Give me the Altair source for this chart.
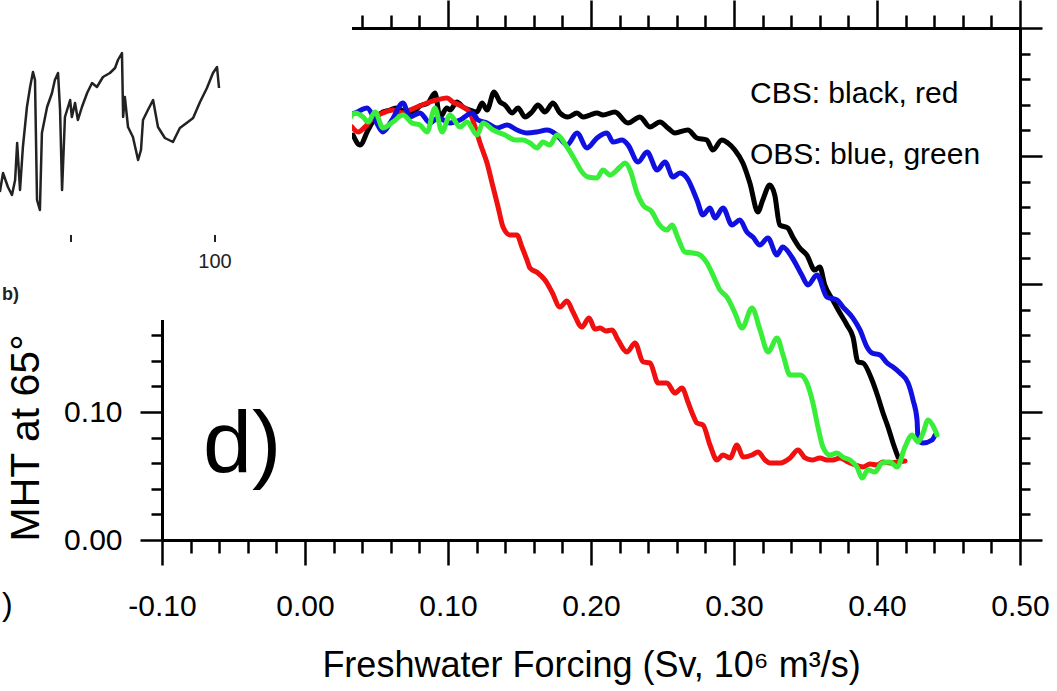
import glob
import subprocess
import altair as alt
import pandas as pd

# ---------------- data ----------------
black_x = [0.0336, 0.0385, 0.0441, 0.0490, 0.0545, 0.0594, 0.0643, 0.0699, 0.0748, 0.0804, 0.0860, 0.0909, 0.0944, 0.0993, 0.1014, 0.1063, 0.1105, 0.1154, 0.1203, 0.1238, 0.1273, 0.1322, 0.1364, 0.1399, 0.1448, 0.1490, 0.1538, 0.1587, 0.1629, 0.1678, 0.1734, 0.1783, 0.1839, 0.1902, 0.1944, 0.1993, 0.2042, 0.2083, 0.2167, 0.2258, 0.2342, 0.2412, 0.2482, 0.2538, 0.2587, 0.2677, 0.2740, 0.2810, 0.2852, 0.2915, 0.2957, 0.3006, 0.3062, 0.3111, 0.3167, 0.3201, 0.3250, 0.3285, 0.3320, 0.3376, 0.3411, 0.3460, 0.3509, 0.3565, 0.3600, 0.3635, 0.3691, 0.3741, 0.3790, 0.3832, 0.3867, 0.3902, 0.3965, 0.4007, 0.4042, 0.4077, 0.4112, 0.4147]
black_y = [0.3164, 0.3086, 0.3203, 0.3297, 0.3344, 0.3359, 0.3375, 0.3344, 0.3336, 0.3391, 0.3414, 0.3492, 0.3305, 0.3375, 0.3359, 0.3422, 0.3383, 0.3359, 0.3344, 0.3414, 0.3359, 0.3500, 0.3422, 0.3398, 0.3336, 0.3375, 0.3305, 0.3344, 0.3398, 0.3344, 0.3414, 0.3336, 0.3305, 0.3336, 0.3305, 0.3320, 0.3336, 0.3320, 0.3344, 0.3258, 0.3305, 0.3227, 0.3266, 0.3219, 0.3180, 0.3203, 0.3141, 0.3125, 0.3047, 0.3125, 0.3102, 0.3047, 0.2945, 0.2789, 0.2563, 0.2656, 0.2773, 0.2695, 0.2461, 0.2438, 0.2367, 0.2281, 0.2227, 0.2109, 0.2133, 0.1992, 0.1875, 0.1773, 0.1680, 0.1586, 0.1391, 0.1383, 0.1250, 0.1117, 0.0992, 0.0883, 0.0758, 0.0648]

red_x = [0.0329, 0.0371, 0.0420, 0.0476, 0.0545, 0.0615, 0.0685, 0.0734, 0.0783, 0.0853, 0.0923, 0.0993, 0.1035, 0.1105, 0.1154, 0.1189, 0.1224, 0.1273, 0.1315, 0.1350, 0.1385, 0.1434, 0.1482, 0.1517, 0.1552, 0.1573, 0.1629, 0.1678, 0.1727, 0.1783, 0.1832, 0.1874, 0.1937, 0.1986, 0.2028, 0.2063, 0.2105, 0.2147, 0.2189, 0.2252, 0.2308, 0.2364, 0.2413, 0.2469, 0.2531, 0.2587, 0.2636, 0.2678, 0.2713, 0.2741, 0.2783, 0.2832, 0.2881, 0.2923, 0.2972, 0.3021, 0.3063, 0.3126, 0.3168, 0.3217, 0.3252, 0.3322, 0.3392, 0.3448, 0.3497, 0.3546, 0.3601, 0.3650, 0.3692, 0.3741, 0.3797, 0.3846, 0.3902, 0.3951, 0.4000, 0.4042, 0.4091, 0.4140, 0.4196]
red_y = [0.3227, 0.3188, 0.3227, 0.3297, 0.3336, 0.3359, 0.3336, 0.3359, 0.3383, 0.3414, 0.3438, 0.3453, 0.3422, 0.3383, 0.3336, 0.3227, 0.3102, 0.2945, 0.2758, 0.2602, 0.2445, 0.2383, 0.2383, 0.2289, 0.2188, 0.2125, 0.2086, 0.2031, 0.1938, 0.1820, 0.1867, 0.1781, 0.1664, 0.1734, 0.1648, 0.1656, 0.1633, 0.1641, 0.1563, 0.1469, 0.1539, 0.1391, 0.1383, 0.1227, 0.1227, 0.1148, 0.1188, 0.1078, 0.0977, 0.0914, 0.0898, 0.0742, 0.0625, 0.0664, 0.0641, 0.0742, 0.0648, 0.0664, 0.0688, 0.0625, 0.0602, 0.0602, 0.0641, 0.0703, 0.0641, 0.0625, 0.0641, 0.0625, 0.0625, 0.0641, 0.0609, 0.0586, 0.0570, 0.0594, 0.0586, 0.0609, 0.0602, 0.0609, 0.0617]

blue_x = [0.0315, 0.0364, 0.0434, 0.0490, 0.0545, 0.0608, 0.0685, 0.0734, 0.0804, 0.0874, 0.0930, 0.1014, 0.1084, 0.1168, 0.1210, 0.1273, 0.1343, 0.1413, 0.1483, 0.1552, 0.1622, 0.1692, 0.1762, 0.1832, 0.1902, 0.1972, 0.2042, 0.2112, 0.2154, 0.2217, 0.2259, 0.2329, 0.2392, 0.2462, 0.2518, 0.2573, 0.2622, 0.2671, 0.2741, 0.2783, 0.2832, 0.2867, 0.2923, 0.2986, 0.3041, 0.3090, 0.3132, 0.3181, 0.3237, 0.3300, 0.3341, 0.3404, 0.3474, 0.3517, 0.3580, 0.3650, 0.3720, 0.3762, 0.3832, 0.3881, 0.3930, 0.3965, 0.4021, 0.4070, 0.4112, 0.4161, 0.4217, 0.4252, 0.4280, 0.4287, 0.4322, 0.4385, 0.4406]
blue_y = [0.3320, 0.3344, 0.3375, 0.3281, 0.3188, 0.3281, 0.3414, 0.3305, 0.3336, 0.3258, 0.3297, 0.3258, 0.3281, 0.3336, 0.3281, 0.3258, 0.3219, 0.3242, 0.3203, 0.3180, 0.3188, 0.3203, 0.3164, 0.3086, 0.3180, 0.3063, 0.3141, 0.3180, 0.3109, 0.3125, 0.3086, 0.2953, 0.3031, 0.2891, 0.2953, 0.2836, 0.2867, 0.2828, 0.2656, 0.2539, 0.2594, 0.2516, 0.2594, 0.2461, 0.2500, 0.2406, 0.2367, 0.2305, 0.2359, 0.2227, 0.2289, 0.2211, 0.2070, 0.1992, 0.2070, 0.1898, 0.1875, 0.1820, 0.1734, 0.1641, 0.1508, 0.1461, 0.1445, 0.1383, 0.1352, 0.1305, 0.1227, 0.1094, 0.0938, 0.0781, 0.0758, 0.0781, 0.0820]

green_x = [0.0315, 0.0350, 0.0406, 0.0441, 0.0490, 0.0545, 0.0615, 0.0685, 0.0748, 0.0804, 0.0853, 0.0909, 0.0958, 0.1014, 0.1084, 0.1133, 0.1203, 0.1245, 0.1315, 0.1399, 0.1469, 0.1524, 0.1573, 0.1622, 0.1664, 0.1713, 0.1762, 0.1832, 0.1888, 0.1937, 0.1979, 0.2042, 0.2084, 0.2133, 0.2203, 0.2238, 0.2273, 0.2322, 0.2364, 0.2427, 0.2469, 0.2531, 0.2566, 0.2608, 0.2657, 0.2713, 0.2762, 0.2811, 0.2853, 0.2902, 0.2951, 0.3007, 0.3056, 0.3126, 0.3182, 0.3238, 0.3301, 0.3343, 0.3392, 0.3462, 0.3510, 0.3552, 0.3587, 0.3622, 0.3671, 0.3720, 0.3762, 0.3811, 0.3860, 0.3895, 0.3937, 0.3986, 0.4035, 0.4091, 0.4140, 0.4196, 0.4245, 0.4287, 0.4322, 0.4357, 0.4406, 0.4420]
green_y = [0.3297, 0.3336, 0.3305, 0.3266, 0.3344, 0.3219, 0.3266, 0.3320, 0.3258, 0.3242, 0.3188, 0.3375, 0.3188, 0.3320, 0.3227, 0.3266, 0.3164, 0.3258, 0.3203, 0.3164, 0.3125, 0.3125, 0.3102, 0.3063, 0.3109, 0.3086, 0.3164, 0.3070, 0.2969, 0.2875, 0.2836, 0.2828, 0.2891, 0.2852, 0.2914, 0.2945, 0.2891, 0.2711, 0.2617, 0.2563, 0.2477, 0.2422, 0.2461, 0.2359, 0.2250, 0.2242, 0.2227, 0.2164, 0.2070, 0.1953, 0.1898, 0.1773, 0.1656, 0.1813, 0.1641, 0.1469, 0.1578, 0.1445, 0.1289, 0.1289, 0.1227, 0.1070, 0.0883, 0.0727, 0.0664, 0.0680, 0.0648, 0.0625, 0.0570, 0.0484, 0.0547, 0.0531, 0.0602, 0.0609, 0.0570, 0.0727, 0.0820, 0.0766, 0.0836, 0.0938, 0.0859, 0.0820]

# fragment of the neighbouring panel (b) visible at top left
inset_year = [25.3, 26.4, 28.1, 29.5, 30.6, 31.3, 32.3, 33.3, 34.7, 35.8, 36.8, 37.5, 38.2, 39.2, 39.9, 41.7, 43.4, 44.4, 45.5, 46.2, 46.9, 47.9, 49.7, 50.3, 51.4, 52.4, 53.8, 55.6, 57.3, 59.0, 61.1, 63.5, 65.3, 66.3, 67.7, 68.1, 68.7, 69.8, 71.5, 73.3, 74.3, 75.0, 76.7, 78.5, 80.2, 82.6, 85.4, 87.8, 90.6, 92.4, 94.8, 97.2, 99.3, 100.7, 101.4]
inset_val = [2.8, 4.7, 3.3, 2.5, 4.0, 7.7, 3.0, 7.3, 11.3, 13.3, 14.8, 14.0, 2.0, 1.0, 8.7, 11.3, 12.7, 14.0, 14.7, 11.0, 3.0, 10.3, 12.0, 10.3, 11.7, 10.0, 11.3, 12.7, 13.7, 13.3, 14.3, 14.7, 15.2, 16.0, 16.7, 10.3, 12.3, 9.3, 8.3, 6.0, 7.0, 10.0, 11.0, 12.0, 9.3, 8.2, 7.8, 9.2, 9.8, 10.2, 11.8, 13.2, 14.7, 15.3, 13.2]
inset_ticks = [50, 100]
inset_tick_labels = ["100"]

x_ticks = [round(-0.10 + 0.02 * i, 2) for i in range(31)]
y_ticks = [round(0.02 * i, 2) for i in range(21)]

x_title = "Freshwater Forcing (Sv, 10\u2076 m\u00b3/s)"
y_title = "MHT at 65\u00b0"
legend_lines = ["CBS: black, red", "OBS: blue, green"]
panel_label = ["d)"]

# ---------------- fonts ----------------
def font_families():
    names = set()
    try:
        out = subprocess.run(["fc-list", ":", "family"], capture_output=True,
                             text=True, timeout=15).stdout
        for line in out.splitlines():
            for n in line.split(","):
                names.add(n.strip())
    except Exception:
        pass
    return names


FAMS = font_families()
if "Liberation Sans Narrow" in FAMS or glob.glob("/usr/share/fonts/**/LiberationSansNarrow*", recursive=True):
    FONT = '"Liberation Sans Narrow", "Liberation Sans", Arial, sans-serif'
    SC = 1.0 / 0.82
elif "Noto Sans Condensed" in FAMS:
    FONT = '"Noto Sans Condensed", "Liberation Sans", Arial, sans-serif'
    SC = 1.0 / 0.86
else:
    FONT = '"Liberation Sans", Arial, sans-serif'
    SC = 1.0
LAB, TIT, LEG, PANEL = round(30 * SC), round(36 * SC), round(30 * SC), round(88 * SC)
RFONT = '"Liberation Sans", Arial, sans-serif'

# ---------------- axes ----------------
MAJOR = "abs(datum.value * 10 - round(datum.value * 10)) < 0.001"
LABEL_EXPR = (f"({MAJOR}) ? (datum.value < 0 ? '-' + format(-datum.value, '.2f') "
              f": format(datum.value, '.2f')) : ''")


def tsize(major, minor):
    return {"condition": {"test": MAJOR, "value": major}, "value": minor}


common = dict(domainColor="black", domainWidth=3, tickColor="black", tickWidth=2.5,
              grid=False, labelColor="black", titleColor="black")

axis_bottom = alt.Axis(orient="bottom", values=x_ticks, tickSize=tsize(25, 13),
                       labelExpr=LABEL_EXPR, labelFont=FONT, labelFontSize=LAB,
                       labelBaseline="alphabetic", labelPadding=50, labelFlush=False,
                       labelOverlap=False, title=x_title, titleFont=FONT,
                       titleFontSize=TIT, titleFontWeight="normal", titleX=429,
                       titleY=136, titleBaseline="alphabetic", titleAlign="center", **common)
axis_left = alt.Axis(orient="left", values=y_ticks, tickSize=tsize(22, 11),
                     labelExpr=LABEL_EXPR, labelFont=FONT, labelFontSize=LAB,
                     labelPadding=18, labelOverlap=False, labelFlush=False,
                     title=y_title, titleFont=RFONT, titleFontSize=41,
                     titleFontWeight="normal", titleAngle=270, titleAlign="left",
                     titleBaseline="alphabetic", titleX=-124, titleY=513, **common)
axis_top = alt.Axis(orient="top", values=x_ticks, tickSize=tsize(28, 13),
                    labels=False, title="", **common)
axis_right = alt.Axis(orient="right", values=y_ticks, tickSize=tsize(22, 10),
                      labels=False, title="", **common)

x_scale = alt.Scale(domain=[-0.10, 0.50], nice=False, zero=False)
y_scale = alt.Scale(domain=[0.0, 0.40], nice=False, zero=False)


def series(xs, ys, color, xaxis, yaxis):
    df = pd.DataFrame({"x": xs, "y": ys})
    return alt.Chart(df).mark_line(color=color, strokeWidth=5, strokeJoin="round",
                                   strokeCap="round", interpolate="monotone").encode(
        x=alt.X("x:Q", scale=x_scale, axis=xaxis),
        y=alt.Y("y:Q", scale=y_scale, axis=yaxis),
    )


main = alt.layer(
    series(black_x, black_y, "black", axis_bottom, axis_left),
    series(red_x, red_y, "#f01010", None, None),
    series(blue_x, blue_y, "#1010e0", axis_top, axis_right),
    series(green_x, green_y, "#38ee38", None, None),
).resolve_axis(x="independent", y="independent")

# white patch of the overlapping neighbouring panel
cover = alt.Chart(pd.DataFrame({"a": [0]})).mark_rect(color="white").encode(
    x=alt.value(-170), x2=alt.value(190), y=alt.value(-40), y2=alt.value(292))

# neighbouring panel fragment
ix = alt.Scale(domain=[0, 100], range=[-235, 53], nice=False, zero=False)
iy = alt.Scale(domain=[0, 20], range=[192, -8], nice=False, zero=False)
inset_line = alt.Chart(pd.DataFrame({"year": inset_year, "val": inset_val})).mark_line(
    color="#222222", strokeWidth=2.5, strokeJoin="round").encode(
    x=alt.X("year:Q", scale=ix, axis=None), y=alt.Y("val:Q", scale=iy, axis=None))
inset_tk = alt.Chart(pd.DataFrame({"year": inset_ticks})).mark_rule(
    color="#222222", strokeWidth=2).encode(
    x=alt.X("year:Q", axis=None), y=alt.value(207), y2=alt.value(214))
inset_lb = alt.Chart(pd.DataFrame({"year": [100], "t": inset_tick_labels})).mark_text(
    font=RFONT, fontSize=20, color="#222222", baseline="middle").encode(
    x=alt.X("year:Q", axis=None), y=alt.value(234), text="t:N")
inset = alt.layer(inset_line, inset_tk, inset_lb)

frag_b = alt.Chart(pd.DataFrame({"t": ["b)"]})).mark_text(
    font=RFONT, fontSize=18, fontWeight="bold", align="left", baseline="alphabetic",
    color="#222222").encode(x=alt.value(-160), y=alt.value(272), text="t:N")
frag_c = alt.Chart(pd.DataFrame({"t": [")"]})).mark_text(
    font=FONT, fontSize=LAB + 2, align="left", baseline="middle", color="black").encode(
    x=alt.value(-160), y=alt.value(577), text="t:N")

leg1 = alt.Chart(pd.DataFrame({"t": [legend_lines[0]]})).mark_text(
    font=FONT, fontSize=LEG, align="left", baseline="alphabetic", color="black").encode(
    x=alt.value(588), y=alt.value(75), text="t:N")
leg2 = alt.Chart(pd.DataFrame({"t": [legend_lines[1]]})).mark_text(
    font=FONT, fontSize=LEG, align="left", baseline="alphabetic", color="black").encode(
    x=alt.value(588), y=alt.value(136), text="t:N")
dlab = alt.Chart(pd.DataFrame({"t": panel_label})).mark_text(
    font=FONT, fontSize=PANEL, align="left", baseline="alphabetic", color="black").encode(
    x=alt.value(41), y=alt.value(444), text="t:N")

chart = alt.layer(main, cover, inset, frag_b, frag_c, leg1, leg2, dlab).resolve_scale(
    x="independent", y="independent"
).properties(
    width=858, height=512,
    autosize=alt.AutoSizeParams(type="none"),
    padding={"left": 162, "top": 28, "right": 37, "bottom": 151},
    background="white",
).configure_view(stroke="transparent")

chart.save("out.html", embed_options={"renderer": "svg", "actions": False})
